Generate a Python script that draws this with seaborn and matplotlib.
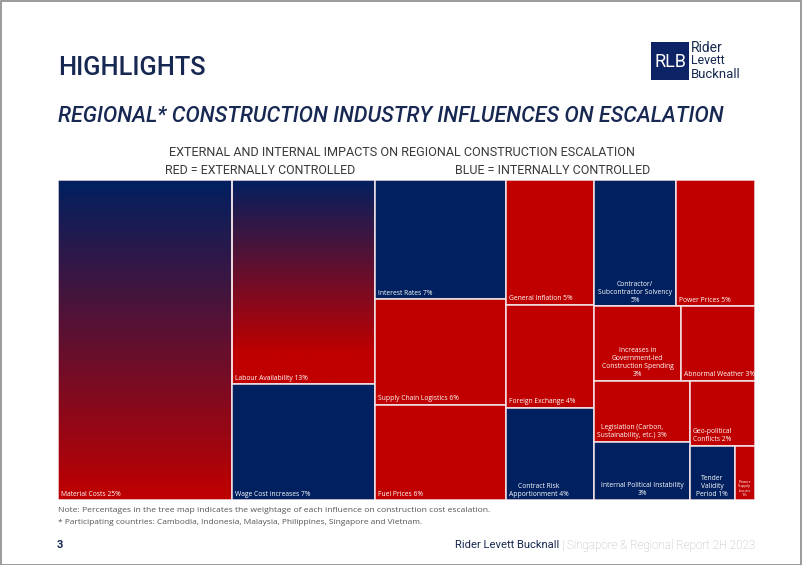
import numpy as np
import pandas as pd
import seaborn as sns
import matplotlib
matplotlib.use("Agg")
import matplotlib.pyplot as plt
from matplotlib.patches import Rectangle

# ---------------- data ----------------
factors = ["Material Costs", "Labour Availability", "Wage Cost increases",
           "Interest Rates", "Supply Chain Logistics", "Fuel Prices",
           "General Inflation", "Foreign Exchange", "Contract Risk\nApportionment",
           "Contractor/\nSubcontractor Solvency", "Power Prices",
           "Increases in\nGovernment-led\nConstruction Spending", "Abnormal Weather",
           "Legislation (Carbon,\nSustainability, etc.)", "Geo-political\nConflicts",
           "Internal Political Instability", "Tender\nValidity\nPeriod",
           "Power\nSupply\nIssues"]
pct = [25, 13, 7, 7, 6, 6, 5, 4, 4, 5, 5, 3, 3, 3, 2, 3, 1, 1]
# estimated unrounded weights read off the tile areas
share = [25.1, 13.1, 7.4, 7.0, 6.2, 5.6, 5.0, 4.1, 3.7, 4.6, 4.5, 2.9, 2.5,
         2.6, 1.9, 2.5, 1.1, 0.5]
control = ["Both", "Both", "Internal", "Internal", "External", "External",
           "External", "External", "Internal", "Internal", "External",
           "External", "External", "External", "External", "Internal",
           "Internal", "External"]
# nesting of the tree map (alternating x / y splits)
tree = [0, [1, 2], [3, 4, 5], [6, 7, 8],
        [[9, 10], [11, 12], [[13, 15], [14, [16, 17]]]]]

# ---------------- style ----------------
NAVY = "#002060"
RED = "#C00000"
HEAD = "#172852"
pct_newline = [False, False, False, False, False, False, False, False, False,
               True, False, True, False, False, False, True, False, True]
label_ha = ["left"] * 18
for i in (9, 11, 15, 16, 17):
    label_ha[i] = "center"
grad_end = {0: 1.0, 1: 0.85}

sns.set_theme(style="white")
plt.rcParams["font.family"] = ["Roboto", "DejaVu Sans"]

W, H = 802, 565
fig = plt.figure(figsize=(W / 100, H / 100), dpi=100)
fig.patch.set_facecolor("white")
renderer = fig.canvas.get_renderer()


def ftext(x, y, s, width=None, size=10, ha="left", va="center", **kw):
    t = fig.text(x / W, 1 - y / H, s, fontsize=size, ha=ha, va=va, **kw)
    if width:
        bb = t.get_window_extent(renderer)
        t.set_fontsize(size * width / bb.width)
    return t


# ---------------- tree map layout ----------------
def total(n):
    return share[n] if isinstance(n, int) else sum(total(c) for c in n)


def place(n, x0, y0, w, h, split_x, out):
    if isinstance(n, int):
        out[n] = (x0, y0, w, h)
        return
    T = total(n)
    pos = 0.0
    for c in n:
        f = total(c) / T
        if split_x:
            place(c, x0 + pos * w, y0, f * w, h, not split_x, out)
        else:
            place(c, x0, y0 + pos * h, w, f * h, not split_x, out)
        pos += f


rects = {}
place(tree, 0.0, 0.0, 1.0, 1.0, True, rects)

ax_l, ax_r, ax_t, ax_b = 58, 755, 180, 500
ax = fig.add_axes([ax_l / W, 1 - ax_b / H, (ax_r - ax_l) / W, (ax_b - ax_t) / H])
ax.set_xlim(0, 1)
ax.set_ylim(1, 0)
ax.axis("off")

navy_rgb = np.array(matplotlib.colors.to_rgb(NAVY))
red_rgb = np.array(matplotlib.colors.to_rgb(RED))

df = pd.DataFrame({"factor": factors, "pct": pct, "share": share, "control": control})
pxw = 1.0 / (ax_r - ax_l)
pxh = 1.0 / (ax_b - ax_t)

for i, row in df.iterrows():
    x0, y0, w, h = rects[i]
    if row["control"] == "Both":
        frac = np.linspace(0, 1, 256)
        t = np.clip(frac / grad_end[i], 0, 1)[:, None]
        img = navy_rgb[None, :] * (1 - t) + red_rgb[None, :] * t
        ax.imshow(img[:, None, :], extent=(x0, x0 + w, y0 + h, y0),
                  origin="upper", aspect="auto", interpolation="bilinear", zorder=1)
        ax.add_patch(Rectangle((x0, y0), w, h, fill=False, edgecolor="#F4E4E8",
                               linewidth=1.1, zorder=2))
    else:
        col = NAVY if row["control"] == "Internal" else RED
        ax.bar(x0, h, width=w, bottom=y0, align="edge", color=col,
               edgecolor="#F4E4E8", linewidth=1.1, zorder=2)
    sep = "\n" if pct_newline[i] else " "
    lab = f"{row['factor']}{sep}{row['pct']}%"
    fs = 3.0 if i == 17 else 4.9
    if label_ha[i] == "center":
        tx = x0 + w / 2
    else:
        tx = x0 + 3 * pxw
    ax.text(tx, y0 + h - 2.5 * pxh, lab, color="white", fontsize=fs,
            ha=label_ha[i], va="bottom", multialignment="center",
            family=["Open Sans", "DejaVu Sans"], zorder=3)

ax.set_xlim(0, 1)
ax.set_ylim(1, 0)

# ---------------- headings ----------------
ftext(58, 68, "HIGHLIGHTS", width=148, size=18, color=HEAD, weight="medium")
ftext(58, 116, "REGIONAL* CONSTRUCTION INDUSTRY INFLUENCES ON ESCALATION",
      width=669, size=14, color=HEAD, style="italic", weight="medium")
ftext(402, 152, "EXTERNAL AND INTERNAL IMPACTS ON REGIONAL CONSTRUCTION ESCALATION",
      width=464, size=9, ha="center", color="#3A3A3A")
ftext(165, 170, "RED = EXTERNALLY CONTROLLED", width=190, size=9, color="#3A3A3A")
ftext(455, 170, "BLUE = INTERNALLY CONTROLLED", width=195, size=9, color="#3A3A3A")

ftext(58, 511, "Note: Percentages in the tree map indicates the weightage of each "
      "influence on construction cost escalation.", width=431, size=6,
      color="#555555", family=["Open Sans", "DejaVu Sans"])
ftext(58, 523, "* Participating countries: Cambodia, Indonesia, Malaysia, Philippines, "
      "Singapore and Vietnam.", width=366, size=6, color="#555555",
      family=["Open Sans", "DejaVu Sans"])

# footer
ftext(57, 545, "3", size=8, color=HEAD, weight="bold")
ftext(455, 545, "Rider Levett Bucknall", width=105, size=8, color=HEAD)
ftext(562, 545, "| Singapore & Regional Report 2H 2023", width=193, size=8,
      color="#B5B5B5", weight="light")

# logo
fig.patches.append(Rectangle((651 / W, 1 - 80 / H), 38 / W, 38 / H,
                             transform=fig.transFigure, facecolor="#0C2466",
                             edgecolor="none"))
ftext(670, 62, "RLB", width=32, size=14, ha="center", color="white")
for yy, word, wd in [(48, "Rider", 32), (61, "Levett", 34), (74, "Bucknall", 50)]:
    ftext(691, yy, word, width=wd, size=9, color=HEAD)

# page border
fig.patches.append(Rectangle((0.5 / W, 0.5 / H), 1 - 1.5 / W, 1 - 1.5 / H,
                             transform=fig.transFigure, fill=False,
                             edgecolor="#8A8A8A", linewidth=1.2))

fig.savefig("out.png", dpi=100)
